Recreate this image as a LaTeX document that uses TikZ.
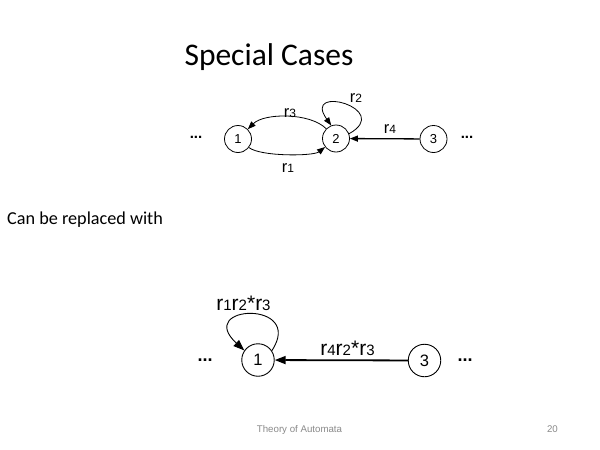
\documentclass[tikz,border=0pt]{standalone}
\usepackage{fontspec}
\setmainfont{Carlito}
\newfontfamily\arialf{Liberation Sans}
\usetikzlibrary{arrows.meta}
\newcommand\tsub[1]{{\fontsize{12}{12}\selectfont #1}}
\newcommand\bsub[1]{{\fontsize{15}{15}\selectfont #1}}
\definecolor{footgray}{HTML}{8A8A8A}
\begin{document}
\begin{tikzpicture}[x=1pt,y=-1pt,
  st/.style={circle,draw,line width=0.8pt,inner sep=0pt,minimum size=27pt,font=\arialf\fontsize{13}{13}\selectfont},
  stb/.style={circle,draw,line width=0.9pt,inner sep=0pt,minimum size=32.5pt,font=\arialf\fontsize{16.5}{16.5}\selectfont},
  tl/.style={anchor=base,inner sep=0pt,font=\arialf\fontsize{16.5}{16.5}\selectfont},
  bl/.style={anchor=base,inner sep=0pt,font=\arialf\fontsize{21}{21}\selectfont},
  dots/.style={anchor=base,inner sep=0pt,font=\arialf\bfseries\fontsize{15}{15}\selectfont},
  dotsb/.style={anchor=base,inner sep=0pt,font=\arialf\bfseries\fontsize{18}{18}\selectfont},
  arr/.style={line width=0.8pt,-{Triangle[length=8pt,width=6pt]}},
  arrs/.style={line width=1.3pt,-{Triangle[length=8pt,width=6pt]}},
  arrb/.style={line width=0.9pt,-{Triangle[length=11pt,width=8pt]}},
  arrbs/.style={line width=1.8pt,-{Triangle[length=11pt,width=8pt]}}
]
\useasboundingbox (0,0) rectangle (600,450);
\fill[white] (0,0) rectangle (600,450);

% title and text
\node[anchor=base,inner sep=0pt,font=\fontsize{31.5}{32}\selectfont] (title) at (269,65) {Special Cases};
\node[anchor=base west,inner sep=0pt,font=\fontsize{18.2}{19}\selectfont] (repl) at (7,224) {Can be replaced with};
\node[anchor=base,inner sep=0pt,text=footgray,font=\arialf\fontsize{9.7}{10}\selectfont] (foot) at (299.5,432) {Theory of Automata};
\node[anchor=base east,inner sep=0pt,text=footgray,font=\arialf\fontsize{9.7}{10}\selectfont] (pg) at (558,432) {20};

% top diagram
\node[st] (t1) at (238,139) {1};
\node[st] (t2) at (336,138.5) {2};
\node[st] (t3) at (433.5,139) {3};
\node[dots] (tdl) at (196,138) {...};
\node[dots] (tdr) at (467,138) {...};

\draw[arr] (t2) to[out=135,in=45,looseness=0.75] (t1);
\draw[arr] (t1) to[out=-38,in=-142,looseness=0.5] (t2);
\draw[arr] (t2.20) .. controls +(45,-25) and +(-30,-42) .. (t2.110);
\draw[arrs] (t3) -- (t2);

\node[tl] (lr3) at (290,117) {r\tsub{3}};
\node[tl] (lr1) at (288,172) {r\tsub{1}};
\node[tl] (lr2) at (356,102) {r\tsub{2}};
\node[tl] (lr4) at (390,133) {r\tsub{4}};

% bottom diagram
\node[stb] (b1) at (258,360) {1};
\node[stb] (b3) at (424.5,360.5) {3};
\node[dotsb] (bdl) at (205,361) {...};
\node[dotsb] (bdr) at (465,361) {...};

\draw[arrb] (b1.34) .. controls +(33.7,-51) and +(-49.9,-45.8) .. (b1.145);
\draw[arrbs] (b3) -- (b1);

\node[bl] (lb1) at (243.5,310) {r\bsub{1}r\bsub{2}*r\bsub{3}};
\node[bl] (lb2) at (347.5,355) {r\bsub{4}r\bsub{2}*r\bsub{3}};
\end{tikzpicture}
\end{document}
